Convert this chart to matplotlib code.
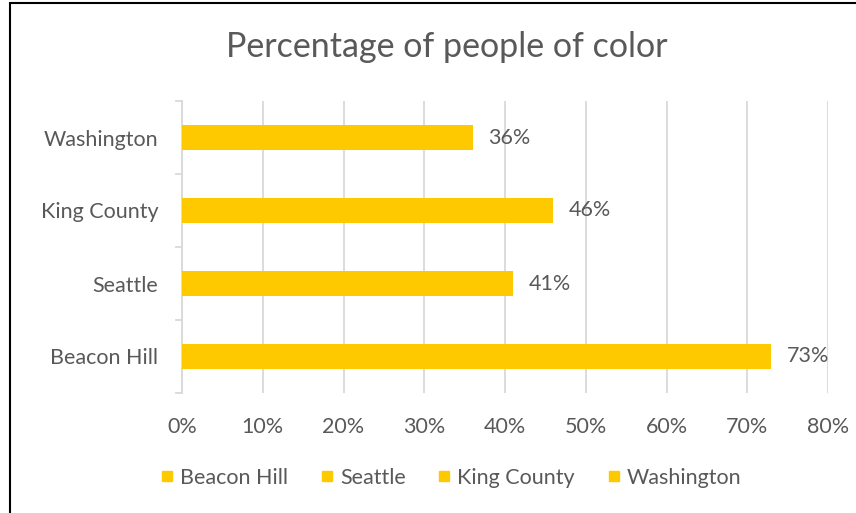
import matplotlib.pyplot as plt
from matplotlib.patches import Rectangle
from matplotlib.lines import Line2D

plt.rcParams['font.family'] = ['Lato', 'DejaVu Sans']

# share of population that are people of color
regions = ['Beacon Hill', 'Seattle', 'King County', 'Washington']
pct = [73, 41, 46, 36]
xticks = [0, 10, 20, 30, 40, 50, 60, 70, 80]

BAR = '#FFC900'
TXT = '#595959'
GRID = '#D9D9D9'
FS = 15.5

fig = plt.figure(figsize=(8.56, 5.13), dpi=100)
ax = fig.add_axes([182 / 856, 1 - 393 / 513, (828 - 182) / 856, (393 - 101) / 513])

ypos = list(range(len(regions)))
ax.barh(ypos, pct, height=0.34, color=BAR, zorder=3)
for y, v in zip(ypos, pct):
    ax.text(v + 1.9, y, f'{v}%', va='center', ha='left', fontsize=FS, color=TXT)

ax.set_xlim(0, 80)
ax.set_ylim(-0.5, len(regions) - 0.5)
ax.set_xticks(xticks)
ax.set_xticklabels([f'{t}%' for t in xticks], fontsize=FS, color=TXT)
ax.set_yticks(ypos)
ax.set_yticklabels(regions, fontsize=FS, color=TXT)
ax.tick_params(axis='x', length=0, pad=17)
ax.tick_params(axis='y', length=0, pad=17)
ax.xaxis.grid(True, color=GRID, linewidth=1.3, zorder=0)
for s in ['top', 'right', 'bottom']:
    ax.spines[s].set_visible(False)
ax.spines['left'].set_color(GRID)
ax.spines['left'].set_linewidth(1.3)
# category separators on the left axis
for b in [-0.5, 0.5, 1.5, 2.5, 3.5]:
    ax.plot([-0.009, 0], [b, b], transform=ax.get_yaxis_transform(),
            color=GRID, linewidth=1.3, clip_on=False)

fig.text(447 / 856, 1 - 47 / 513, 'Percentage of people of color',
         ha='center', va='center', fontsize=24.5, color=TXT)

handles = [Line2D([], [], marker='s', linestyle='none', markersize=7,
                  markerfacecolor=BAR, markeredgecolor=BAR) for _ in regions]
fig.legend(handles, regions, loc='center', bbox_to_anchor=(450 / 856, 1 - 478 / 513),
           ncol=4, frameon=False, fontsize=FS, labelcolor=TXT,
           handletextpad=0.2, columnspacing=1.4, handlelength=0.8)

# outer frame
fig.patches.append(Rectangle((10 / 856, -0.05), 1.1, 1 - 3 / 513 + 0.05,
                             transform=fig.transFigure, fill=False,
                             edgecolor='black', linewidth=1.5))

fig.savefig('out.png', dpi=100)
